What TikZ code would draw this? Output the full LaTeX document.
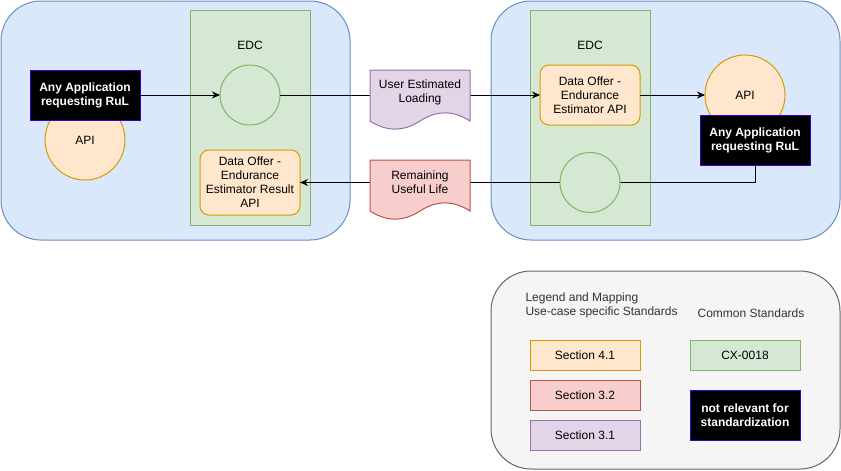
\documentclass[tikz,border=0pt]{standalone}
\usepackage{fontspec}
\setmainfont{Liberation Sans}
\usetikzlibrary{arrows.meta}
\definecolor{blueF}{HTML}{DAE8FC}
\definecolor{blueS}{HTML}{6C8EBF}
\definecolor{greenF}{HTML}{D5E8D4}
\definecolor{greenS}{HTML}{82B366}
\definecolor{orangeF}{HTML}{FFE6CC}
\definecolor{orangeS}{HTML}{D79B00}
\definecolor{redF}{HTML}{F8CECC}
\definecolor{redS}{HTML}{B85450}
\definecolor{purpleF}{HTML}{E1D5E7}
\definecolor{purpleS}{HTML}{9673A6}
\definecolor{grayF}{HTML}{F5F5F5}
\definecolor{grayS}{HTML}{666666}
\definecolor{grayT}{HTML}{333333}
\definecolor{appS}{HTML}{3700CC}
\begin{document}
\begin{tikzpicture}[x=1pt,y=-1pt,line width=1pt,
  every node/.style={font=\fontsize{12}{14}\selectfont,inner sep=0pt,outer sep=0pt},
  container/.style={draw=blueS,fill=blueF,rounded corners=40pt,minimum width=349pt,minimum height=239pt},
  edcbox/.style={draw=greenS,fill=greenF,minimum width=120pt,minimum height=215pt},
  gcirc/.style={circle,draw=greenS,fill=greenF,minimum size=60pt},
  apicirc/.style={circle,draw=orangeS,fill=orangeF,minimum size=80pt},
  appbox/.style={draw=appS,fill=black,text=white,font=\fontsize{12}{14}\selectfont\bfseries,minimum width=110pt,minimum height=50pt,align=center},
  offer/.style={draw=orangeS,fill=orangeF,rounded corners=9pt,minimum width=100pt,align=center},
  secbox/.style={minimum width=110pt,minimum height=30pt,align=center},
  arr/.style={-{Stealth[length=8pt,width=7pt]}},
  docpath/.style={line width=1pt}
]
\useasboundingbox (0,0) rectangle (841,471);

% containers
\node[container] (lcont) at (175.5,120.5) {};
\node[container] (rcont) at (665.5,120.5) {};
\node[edcbox] (ledc) at (250,117.5) {};
\node[edcbox] (redc) at (590,117.5) {};
\node (ledcl) at (250,45.5) {EDC};
\node (redcl) at (590,45.5) {EDC};

% left side
\node[apicirc] (lapi) at (85,140) {API};
\node[appbox] (lapp) at (85,95) {Any Application\\requesting RuL};
\node[gcirc] (lcirc) at (250,95) {};
\node[offer,minimum height=65pt] (ldata) at (250,182.5) {Data Offer -\\Endurance\\Estimator Result\\API};

% right side
\node[offer,minimum height=60pt] (rdata) at (590,95) {Data Offer -\\Endurance\\Estimator API};
\node[apicirc] (rapi) at (745,95) {API};
\node[appbox] (rapp) at (755,140) {Any Application\\requesting RuL};

% connectors
\draw[arr] (lapp.east) -- (lcirc.west);
\draw[arr] (lcirc.east) -- (rdata.west);
\draw[arr] (rdata.east) -- (rapi.west);
\draw[arr] (rapp.south) |- (ldata.east);
\node[gcirc] (rcirc) at (590,182.5) {};

% document shapes
\begin{scope}[shift={(370,70)}]
\path[docpath,draw=purpleS,fill=purpleF] (0,0) -- (100,0) -- (100,51)
  .. controls (83.33,40.2) and (66.67,40.2) .. (50,51)
  .. controls (33.33,61.8) and (16.67,61.8) .. (0,51) -- cycle;
\end{scope}
\begin{scope}[shift={(370,160)}]
\path[docpath,draw=redS,fill=redF] (0,0) -- (100,0) -- (100,51)
  .. controls (83.33,40.2) and (66.67,40.2) .. (50,51)
  .. controls (33.33,61.8) and (16.67,61.8) .. (0,51) -- cycle;
\end{scope}
\node[align=center] (uel) at (420,92) {User Estimated\\Loading};
\node[align=center] (rul) at (420,182) {Remaining\\Useful Life};

% legend
\node[draw=grayS,fill=grayF,rounded corners=40pt,minimum width=349pt,minimum height=198pt] (legend) at (665.5,370) {};
\node[anchor=west,align=left,text=grayT] (legt) at (525.5,305) {Legend and Mapping\\Use-case specific Standards};
\node[text=grayT] (comt) at (751,313) {Common Standards};
\node[secbox,draw=orangeS,fill=orangeF] (s41) at (585,355) {Section 4.1};
\node[secbox,draw=redS,fill=redF] (s32) at (585,395) {Section 3.2};
\node[secbox,draw=purpleS,fill=purpleF] (s31) at (585,435) {Section 3.1};
\node[secbox,draw=greenS,fill=greenF] (cx) at (745,355) {CX-0018};
\node[appbox] (nrel) at (745,415) {not relevant for\\standardization};
\end{tikzpicture}
\end{document}
